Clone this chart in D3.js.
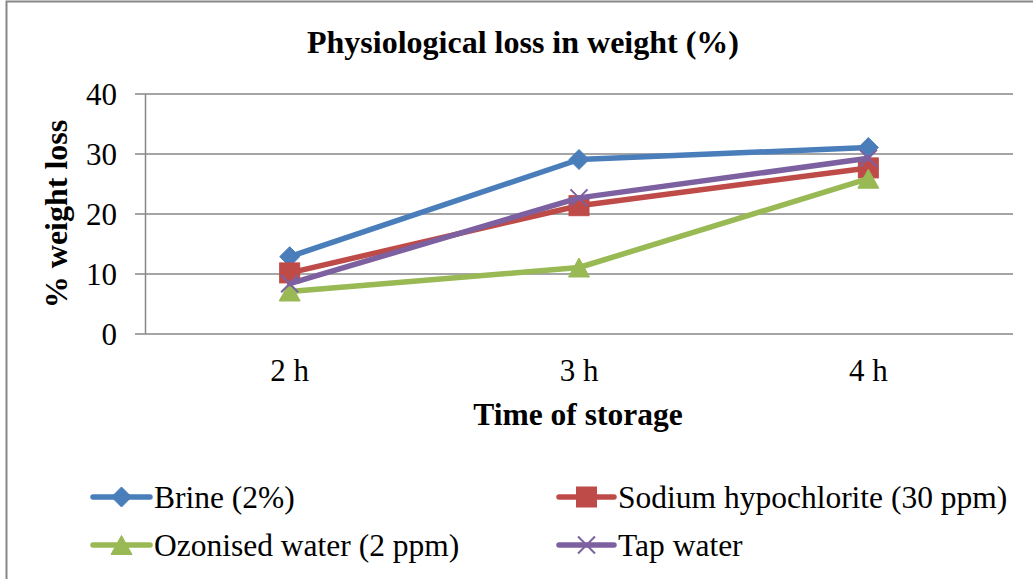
<!DOCTYPE html>
<html>
<head>
<meta charset="utf-8">
<script src="https://cdn.jsdelivr.net/npm/d3@7"></script>
<style>
  html, body { margin: 0; padding: 0; background: #fff; }
  svg { display: block; }
  text { font-family: "Liberation Serif", "Times New Roman", serif; fill: #000; }
</style>
</head>
<body>
<svg id="chart" width="1033" height="579"></svg>
<script>
// Storage times on the category axis
const categories = ["2 h", "3 h", "4 h"];
// Physiological loss in weight (%) for each washing treatment
const brine = [12.8, 29, 31];
const sodiumHypochlorite = [10.1, 21.3, 27.6];
const ozonisedWater = [7, 11, 25.8];
const tapWater = [8.3, 22.6, 29.2];
const yTicks = [0, 10, 20, 30, 40];

const seriesNames = ["Brine (2%)", "Sodium hypochlorite (30 ppm)", "Ozonised water (2 ppm)", "Tap water"];
const seriesValues = [brine, sodiumHypochlorite, ozonisedWater, tapWater];
const seriesColors = ["#4A7EBB", "#BE4B48", "#98B954", "#7D60A0"];
const seriesMarkers = ["diamond", "square", "triangle", "cross"];

const series = seriesNames.map((name, i) => ({
  name, values: seriesValues[i], color: seriesColors[i], marker: seriesMarkers[i]
}));

const svg = d3.select("#chart");
const W = 1033, H = 579;
const plot = { left: 145, right: 1013, top: 93.5, bottom: 333.5 };

svg.append("rect").attr("width", W).attr("height", H).attr("fill", "#fff");

// Outer chart frame (top and left edges)
svg.append("path")
  .attr("d", `M6.5,${H} V1.5 H${W}`)
  .attr("fill", "none").attr("stroke", "#888").attr("stroke-width", 2);

const x = d3.scaleBand().domain(categories).range([plot.left, plot.right]).padding(0);
const xc = c => x(c) + x.bandwidth() / 2;
const y = d3.scaleLinear().domain([0, 40]).range([plot.bottom, plot.top]);

// Horizontal gridlines
svg.append("g")
  .attr("transform", `translate(${plot.left},0)`)
  .call(d3.axisLeft(y).tickValues(yTicks).tickSize(-(plot.right - plot.left)).tickFormat(""))
  .call(g => g.select(".domain").remove())
  .call(g => g.selectAll("line").attr("stroke", "#878787").attr("stroke-width", 1.5));

// Value axis with outward ticks
svg.append("g")
  .attr("transform", `translate(${plot.left},0)`)
  .call(d3.axisLeft(y).tickValues(yTicks).tickSize(10).tickSizeOuter(0).tickPadding(18))
  .call(g => g.select(".domain").attr("stroke", "#878787").attr("stroke-width", 1.5))
  .call(g => g.selectAll("line").attr("stroke", "#878787").attr("stroke-width", 1.5))
  .call(g => g.selectAll("text")
    .attr("font-family", "Liberation Serif").attr("font-size", 31).attr("fill", "#000").attr("dy", "0.36em"));

// Category axis labels
svg.append("g")
  .attr("transform", `translate(0,${plot.bottom})`)
  .call(d3.axisBottom(x).tickSize(0))
  .call(g => g.select(".domain").remove())
  .call(g => g.selectAll("text")
    .attr("font-family", "Liberation Serif").attr("font-size", 31).attr("fill", "#000")
    .attr("y", 47.5).attr("dy", 0));

const line = d3.line().x((d, i) => xc(categories[i])).y(d => y(d));

function drawMarker(g, type, color, cx, cy) {
  if (type === "diamond") {
    g.append("path").attr("d", `M${cx},${cy - 10}L${cx + 10},${cy}L${cx},${cy + 10}L${cx - 10},${cy}Z`)
      .attr("fill", color).attr("stroke", color).attr("stroke-width", 1);
  } else if (type === "square") {
    g.append("rect").attr("x", cx - 10).attr("y", cy - 10).attr("width", 20).attr("height", 20)
      .attr("fill", color).attr("stroke", color).attr("stroke-width", 1);
  } else if (type === "triangle") {
    g.append("path").attr("d", `M${cx},${cy - 9.5}L${cx + 10.5},${cy + 9.5}L${cx - 10.5},${cy + 9.5}Z`)
      .attr("fill", color).attr("stroke", color).attr("stroke-width", 1);
  } else if (type === "cross") {
    g.append("path").attr("d", `M${cx - 8.5},${cy - 8.5}L${cx + 8.5},${cy + 8.5}M${cx + 8.5},${cy - 8.5}L${cx - 8.5},${cy + 8.5}`)
      .attr("fill", "none").attr("stroke", color).attr("stroke-width", 2);
  }
}

// Series lines with markers
series.forEach(s => {
  const g = svg.append("g");
  g.append("path").attr("d", line(s.values))
    .attr("fill", "none").attr("stroke", s.color).attr("stroke-width", 5.5)
    .attr("stroke-linejoin", "round").attr("stroke-linecap", "round");
  s.values.forEach((v, i) => drawMarker(g, s.marker, s.color, xc(categories[i]), y(v)));
});

// Chart title
svg.append("text").attr("x", 523).attr("y", 53).attr("text-anchor", "middle")
  .attr("font-size", 32).attr("font-weight", "bold").text("Physiological loss in weight (%)");

// Axis titles
svg.append("text").attr("x", 578).attr("y", 425).attr("text-anchor", "middle")
  .attr("font-size", 31.5).attr("font-weight", "bold").text("Time of storage");
svg.append("text").attr("transform", "translate(67,214) rotate(-90)").attr("text-anchor", "middle")
  .attr("font-size", 32).attr("font-weight", "bold").text("% weight loss");

// Legend
const legendPos = [
  { x0: 93, x1: 150, ty: 497 },
  { x0: 559, x1: 614, ty: 497 },
  { x0: 93, x1: 150, ty: 545 },
  { x0: 559, x1: 614, ty: 545 }
];
series.forEach((s, i) => {
  const p = legendPos[i];
  const g = svg.append("g");
  g.append("line").attr("x1", p.x0).attr("x2", p.x1).attr("y1", p.ty).attr("y2", p.ty)
    .attr("stroke", s.color).attr("stroke-width", 5.5).attr("stroke-linecap", "round");
  drawMarker(g, s.marker, s.color, (p.x0 + p.x1) / 2, p.ty);
  g.append("text").attr("x", p.x1 + 4).attr("y", p.ty + 10.5)
    .attr("font-size", 31.5).text(s.name);
});
</script>
</body>
</html>
